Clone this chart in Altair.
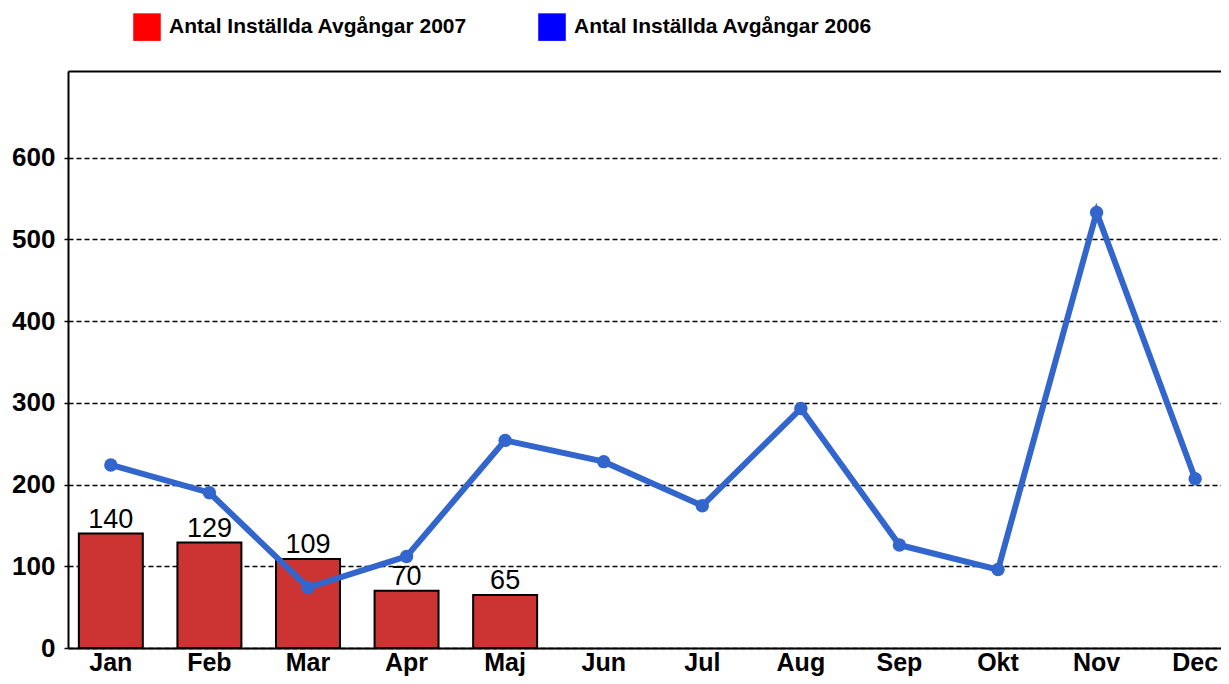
import altair as alt
import pandas as pd

months = ["Jan", "Feb", "Mar", "Apr", "Maj", "Jun", "Jul", "Aug", "Sep", "Okt", "Nov", "Dec"]
months_2007 = ["Jan", "Feb", "Mar", "Apr", "Maj"]
values_2007 = [140, 129, 109, 70, 65]
values_2006 = [224, 190, 74, 112, 254, 228, 174, 293, 126, 96, 533, 207]
series_names = ["Antal Inställda Avgångar 2007", "Antal Inställda Avgångar 2006"]
legend_colors = ["#FF0000", "#0000FF"]
y_ticks = [0, 100, 200, 300, 400, 500, 600]

df07 = pd.DataFrame({"month": months_2007, "value": values_2007, "series": series_names[0]})
df06 = pd.DataFrame({"month": months, "value": values_2006, "series": series_names[1]})
df_all = pd.concat([df07, df06], ignore_index=True)

FONT = "Liberation Sans"

x_scale = alt.Scale(domain=months, range=[0, 1170], paddingInner=0.351, paddingOuter=0.11)
y_scale = alt.Scale(domain=[0, 706], nice=False, zero=True)

y_axis = alt.Axis(values=y_ticks, title=None, labelFontSize=26, labelFontWeight="bold",
                  labelColor="black", labelFont=FONT, tickSize=4, tickColor="black",
                  tickWidth=1.5, labelPadding=9, domainColor="black", domainWidth=2,
                  grid=True, gridColor="black", gridDash=[5, 3], gridWidth=1.3)

x_axis_bottom = alt.Axis(title=None, labelAngle=0, labelFontSize=25, labelFontWeight="bold",
                         labelColor="black", labelFont=FONT, ticks=False, labelPadding=2,
                         domainColor="black", domainWidth=2, grid=False)
x_axis_top = alt.Axis(orient="top", title=None, labels=False, ticks=False, domain=True,
                      domainColor="black", domainWidth=2, grid=False)

bars = alt.Chart(df07).mark_bar(color="#CC3333", stroke="black", strokeWidth=2).encode(
    x=alt.X("month:N", scale=x_scale, axis=x_axis_bottom, sort=months),
    y=alt.Y("value:Q", scale=y_scale, axis=y_axis),
)

bar_labels = alt.Chart(df07).mark_text(fontSize=27, font=FONT, color="black", dy=-6,
                                       baseline="alphabetic").encode(
    x=alt.X("month:N", scale=x_scale, axis=None, sort=months),
    y=alt.Y("value:Q", scale=y_scale, axis=y_axis),
    text=alt.Text("value:Q"),
)

line = alt.Chart(df06).mark_line(
    color="#3366CC", strokeWidth=6,
    point=alt.OverlayMarkDef(color="#3366CC", size=180, filled=True, opacity=1),
).encode(
    x=alt.X("month:N", scale=x_scale, axis=x_axis_top, sort=months),
    y=alt.Y("value:Q", scale=y_scale, axis=y_axis),
)

legend_layer = alt.Chart(df_all).mark_square(opacity=0).encode(
    x=alt.X("month:N", scale=x_scale, axis=None, sort=months),
    y=alt.Y("value:Q", scale=y_scale, axis=y_axis),
    color=alt.Color("series:N", scale=alt.Scale(domain=series_names, range=legend_colors),
                    legend=alt.Legend(title=None, orient="none", legendX=65, legendY=-58,
                                      direction="horizontal", symbolType="square",
                                      symbolSize=760, symbolOpacity=1, symbolStrokeWidth=0,
                                      labelFontSize=21, labelFontWeight="bold", labelFont=FONT,
                                      labelColor="black", labelOffset=8, columnPadding=71,
                                      labelLimit=500)),
)

chart = alt.layer(bars, bar_labels, line, legend_layer).resolve_axis(x="independent").properties(
    width=1153, height=577,
    autosize=alt.AutoSizeParams(type="none"),
    padding={"left": 60, "top": 63, "right": 0, "bottom": 28},
).configure_view(stroke=None).configure(font=FONT)

chart.save("out.html", embed_options={"renderer": "svg", "actions": False})
